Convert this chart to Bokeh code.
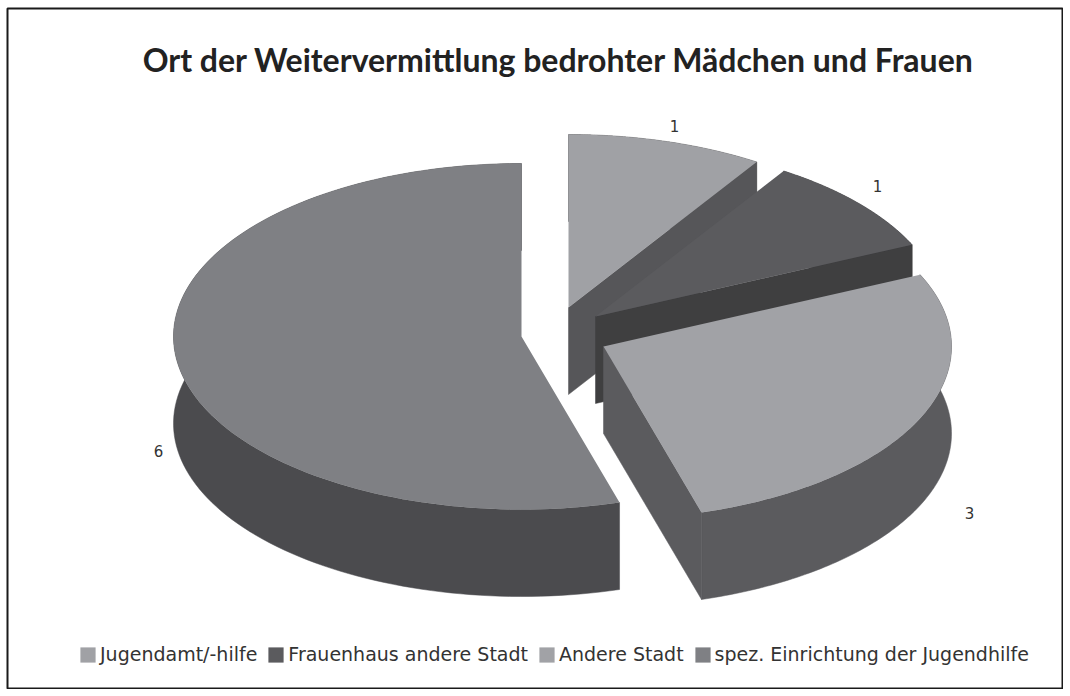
import numpy as np
from bokeh.embed import file_html
from bokeh.resources import INLINE
from bokeh.plotting import figure
from bokeh.models import Legend, LegendItem, Label

title_text = "Ort der Weitervermittlung bedrohter Mädchen und Frauen"
categories = ["Jugendamt/-hilfe", "Frauenhaus andere Stadt", "Andere Stadt", "spez. Einrichtung der Jugendhilfe"]
values = [1, 1, 3, 6]

# layout and style, kept apart from the data
top_colors = ["#a0a1a5", "#5b5b5e", "#a1a2a6", "#7f8084"]
side_colors = ["#565659", "#3f3f40", "#5b5b5e", "#4b4b4e"]
apexes = [(568, 307), (595, 316), (603, 346), (521, 336)]
label_pos = [(674, 125), (877, 185), (969, 512), (158, 450)]
RX, RY, DEPTH = 348, 173, 87

total = sum(values)
edges = np.cumsum([0] + values) / total * 2 * np.pi


def pt(apex, a):
    return apex[0] + RX * np.sin(a), apex[1] - RY * np.cos(a)


p = figure(width=1063, height=689, x_range=(7, 1063), y_range=(689, 8),
           output_backend="svg", toolbar_location=None,
           min_border_left=7, min_border_top=8, min_border_right=0, min_border_bottom=0,
           background_fill_color="white", outline_line_color="#1a1a1a", outline_line_width=2)
p.xaxis.visible = False
p.yaxis.visible = False
p.grid.visible = False

top_renderers = {}
for i in [0, 1, 3, 2]:  # back to front
    ap = apexes[i]
    a0, a1 = edges[i], edges[i + 1]
    ang = np.linspace(a0, a1, 120)
    ex, ey = zip(*[pt(ap, a) for a in ang])
    ex, ey = np.array(ex), np.array(ey)
    col = side_colors[i]
    # outer rim
    p.patch(list(ex) + list(ex[::-1]), list(ey) + list(ey[::-1] + DEPTH),
            fill_color=col, line_color=col, line_width=0.5)
    # cut face at the end angle
    if i != 3:
        p.patch([ap[0], ex[-1], ex[-1], ap[0]], [ap[1], ey[-1], ey[-1] + DEPTH, ap[1] + DEPTH],
                fill_color=col, line_color=col, line_width=0.5)
    top_renderers[i] = p.patch([ap[0]] + list(ex), [ap[1]] + list(ey),
                               fill_color=top_colors[i], line_color=None)

for (x, y), v in zip(label_pos, values):
    p.add_layout(Label(x=x, y=y, text=str(v), text_font="DejaVu Sans", text_font_size="15px",
                       text_color="#333333", text_align="center", text_baseline="middle"))

p.add_layout(Label(x=558, y=59, text=title_text, text_font="Lato",
                   text_font_style="bold", text_font_size="32px", text_color="#222222",
                   text_align="center", text_baseline="middle"))

legend = Legend(items=[LegendItem(label=c, renderers=[top_renderers[i]]) for i, c in enumerate(categories)],
                orientation="horizontal", location=(71, 24), spacing=9, padding=0, margin=0,
                glyph_width=19, glyph_height=19, label_standoff=3,
                label_text_font="DejaVu Sans", label_text_font_size="19px", label_text_color="#333333",
                background_fill_alpha=0, border_line_color=None)
p.add_layout(legend, "center")

open("out.html", "w").write(file_html(p, INLINE))
